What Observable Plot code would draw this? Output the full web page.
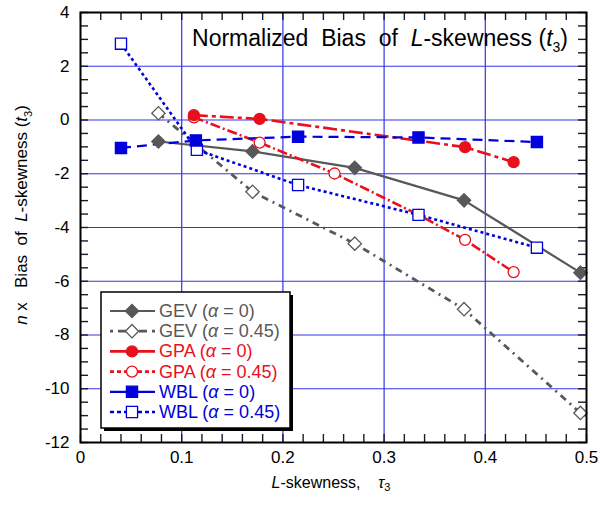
<!DOCTYPE html>
<html>
<head>
<meta charset="utf-8">
<script src="https://cdn.jsdelivr.net/npm/d3@7"></script>
<script src="https://cdn.jsdelivr.net/npm/@observablehq/plot@0.6"></script>
<style>
  html, body { margin: 0; padding: 0; background: white; }
  #chart { position: relative; width: 600px; height: 506px; }
  svg text { white-space: pre; }
</style>
</head>
<body>
<div id="chart"></div>
<script>
// ---- data ----
const gevX0  = [0.077, 0.170, 0.271, 0.379, 0.494];
const gevY0  = [-0.80, -1.17, -1.78, -2.99, -5.68];
const gevX45 = [0.077, 0.170, 0.271, 0.379, 0.494];
const gevY45 = [0.25, -2.67, -4.60, -7.04, -10.90];
const gpaX0  = [0.112, 0.177, 0.380, 0.428];
const gpaY0  = [0.18, 0.04, -1.01, -1.57];
const gpaX45 = [0.112, 0.177, 0.251, 0.334, 0.380, 0.428];
const gpaY45 = [0.10, -0.84, -1.99, -3.53, -4.46, -5.66];
const wblX0  = [0.040, 0.114, 0.215, 0.334, 0.451];
const wblY0  = [-1.04, -0.76, -0.62, -0.65, -0.82];
const wblX45 = [0.040, 0.115, 0.215, 0.334, 0.451];
const wblY45 = [2.84, -1.11, -2.42, -3.53, -4.75];

const xTicks = [0, 0.1, 0.2, 0.3, 0.4, 0.5];
const xTickLabels = ["0", "0.1", "0.2", "0.3", "0.4", "0.5"];
const yTicks = [4, 2, 0, -2, -4, -6, -8, -10, -12];
const yTickLabels = ["4", "2", "0", "-2", "-4", "-6", "-8", "-10", "-12"];
const xGrid = [0.1, 0.2, 0.3, 0.4];
const yGrid = [2, 0, -2, -4, -6, -8, -10];
const xMinor = d3.range(0, 51, 2).map(i => i / 100);
const yMinor = d3.range(-24, 9).map(i => i / 2);

const legendLabels = ["GEV", "GEV", "GPA", "GPA", "WBL", "WBL"];
const legendAlphas = ["0", "0.45", "0", "0.45", "0", "0.45"];

// ---- styling ----
const GRAY = "#585858", RED = "#e8101a", BLUE = "#0000dc", GRID = "#3434e8";
const FONT = "'Liberation Sans', Arial, Helvetica, sans-serif";

const series = [
  {x: gevX45, y: gevY45, color: GRAY, fill: "white", symbol: "diamond2", r: 6, dash: "7,5,2,5", w: 2.8},
  {x: gevX0,  y: gevY0,  color: GRAY, fill: GRAY,    symbol: "diamond2", r: 6, dash: null, w: 2.2},
  {x: gpaX45, y: gpaY45, color: RED,  fill: "white", symbol: "circle",   r: 5.5, dash: "10,3,2,3", w: 2.6},
  {x: gpaX0,  y: gpaY0,  color: RED,  fill: RED,     symbol: "circle",   r: 5.5, dash: "14,4,4,4", w: 2.6},
  {x: wblX45, y: wblY45, color: BLUE, fill: "white", symbol: "square",   r: 6.3, dash: "3,3", w: 2.6},
  {x: wblX0,  y: wblY0,  color: BLUE, fill: BLUE,    symbol: "square",   r: 6.3, dash: "10,6", w: 2.2}
].map(s => ({...s, data: s.x.map((x, i) => ({x, y: s.y[i]}))}));

const W = 600, H = 506, mL = 80, mR = 14, mT = 12, mB = 64;
const plotW = W - mL - mR, plotH = H - mT - mB;
const xDom = [0, 0.5], yDom = [-12, 4];
const TICK = 8;

const marks = [
  Plot.ruleX(xGrid, {x: d => d, stroke: GRID, strokeWidth: 1.2}),
  Plot.ruleY(yGrid, {y: d => d, stroke: GRID, strokeWidth: 1.2}),
  Plot.tickX(xMinor, {x: d => d, insetTop: plotH - TICK, stroke: "#1a1a30", strokeWidth: 1.4}),
  Plot.tickX(xMinor, {x: d => d, insetBottom: plotH - TICK, stroke: "#1a1a30", strokeWidth: 1.4}),
  Plot.tickY(yMinor, {y: d => d, insetRight: plotW - TICK, stroke: "#1a1a30", strokeWidth: 1.4}),
  Plot.tickY(yMinor, {y: d => d, insetLeft: plotW - TICK, stroke: "#1a1a30", strokeWidth: 1.4})
];
for (const s of series) {
  marks.push(Plot.line(s.data, {x: "x", y: "y", stroke: s.color, strokeWidth: s.w,
    strokeDasharray: s.dash || undefined, strokeLinecap: "butt"}));
}
for (const s of series) {
  marks.push(Plot.dot(s.data, {x: "x", y: "y", symbol: s.symbol, r: s.r,
    fill: s.fill, stroke: s.color, strokeWidth: 1.3}));
}
marks.push(Plot.frame({stroke: "black", strokeWidth: 2}));

const chart = Plot.plot({
  width: W, height: H,
  marginLeft: mL, marginRight: mR, marginTop: mT, marginBottom: mB,
  style: {fontFamily: FONT, fontSize: "17px", background: "white", color: "black", overflow: "visible"},
  x: {domain: xDom, ticks: xTicks, tickFormat: d => xTickLabels[xTicks.indexOf(d)], tickSize: 0, tickPadding: 8, label: null},
  y: {domain: yDom, ticks: yTicks, tickFormat: d => yTickLabels[yTicks.indexOf(d)], tickSize: 0, tickPadding: 11, label: null},
  marks
});
document.getElementById("chart").appendChild(chart);

// ---- annotations: title, axis labels, legend (real SVG text) ----
const svg = d3.select(chart);
const ann = svg.append("g").attr("font-family", FONT).attr("fill", "black");

// title
const t = ann.append("text").attr("x", 568).attr("y", 46).attr("text-anchor", "end").attr("font-size", 23);
t.append("tspan").text("Normalized  Bias  of  ");
t.append("tspan").attr("font-style", "italic").text("L");
t.append("tspan").text("-skewness (");
t.append("tspan").attr("font-style", "italic").text("t");
t.append("tspan").attr("font-size", 14).attr("dy", 6).text("3");
t.append("tspan").attr("dy", -6).text(")");

// y label
const yl = ann.append("text").attr("transform", "translate(27,215) rotate(-90)").attr("text-anchor", "middle").attr("font-size", 17);
yl.append("tspan").attr("font-style", "italic").text("n");
yl.append("tspan").text(" x   Bias  of  ");
yl.append("tspan").attr("font-style", "italic").text("L");
yl.append("tspan").text("-skewness (");
yl.append("tspan").attr("font-style", "italic").text("t");
yl.append("tspan").attr("font-size", 11).attr("dy", 5).text("3");
yl.append("tspan").attr("dy", -5).text(")");

// x label
const xl = ann.append("text").attr("x", 331).attr("y", 488).attr("text-anchor", "middle").attr("font-size", 16);
xl.append("tspan").attr("font-style", "italic").text("L");
xl.append("tspan").text("-skewness,    ");
xl.append("tspan").attr("font-style", "italic").text("τ");
xl.append("tspan").attr("font-size", 11).attr("dy", 3).text("3");

// legend
const lg = svg.append("g").attr("font-family", FONT);
lg.append("rect").attr("x", 104).attr("y", 295).attr("width", 189).attr("height", 136).attr("fill", "black");
lg.append("rect").attr("x", 101).attr("y", 292).attr("width", 189).attr("height", 136).attr("fill", "white").attr("stroke", "black").attr("stroke-width", 1.5);
const legendDash = [null, "3,5,8,5", null, "4,3", null, "4,3"];
const order = [1, 0, 3, 2, 5, 4];
order.forEach((si, i) => {
  const s = series[si];
  const cy = 311 + i * 20.2;
  lg.append("line").attr("x1", 110).attr("x2", 155).attr("y1", cy).attr("y2", cy)
    .attr("stroke", s.color).attr("stroke-width", s.w).attr("stroke-dasharray", legendDash[i]);
  const sym = {diamond2: d3.symbolDiamond2, circle: d3.symbolCircle, square: d3.symbolSquare}[s.symbol];
  lg.append("path").attr("transform", `translate(132,${cy})`)
    .attr("d", d3.symbol(sym, Math.PI * s.r * s.r)())
    .attr("fill", s.fill).attr("stroke", s.color).attr("stroke-width", 1.3);
  const txt = lg.append("text").attr("x", 159).attr("y", cy + 6).attr("text-anchor", "start")
    .attr("font-size", 18).attr("fill", s.color);
  txt.append("tspan").text(legendLabels[i] + " (");
  txt.append("tspan").attr("font-style", "italic").text("α");
  txt.append("tspan").text(" = " + legendAlphas[i] + ")");
});
</script>
</body>
</html>
